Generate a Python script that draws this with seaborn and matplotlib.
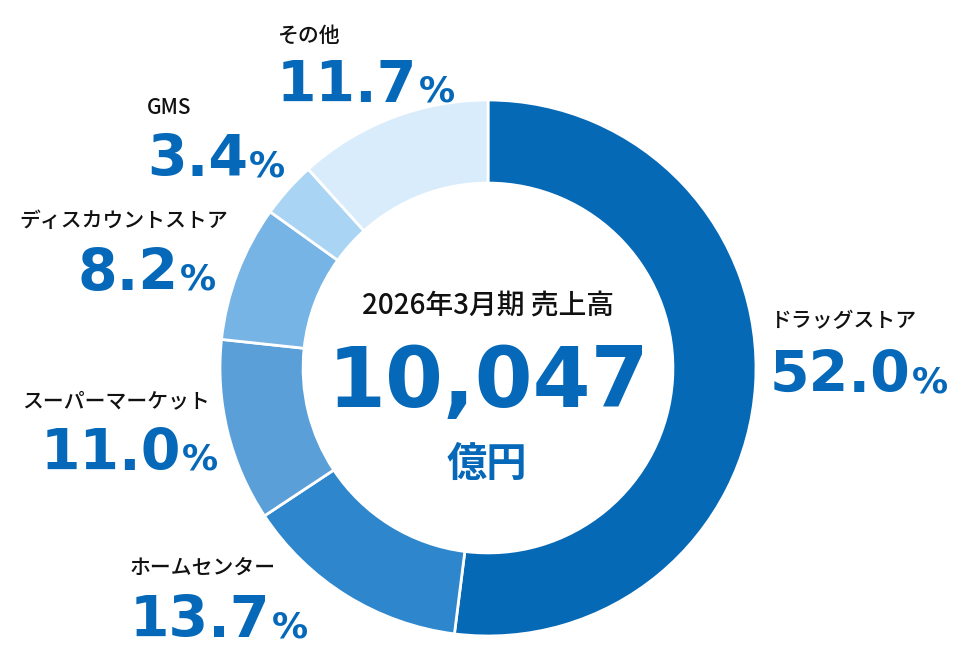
import matplotlib
matplotlib.use("Agg")
import matplotlib.pyplot as plt
import seaborn as sns

# sales share by business format (clockwise from 12 o'clock)
categories = ["ドラッグストア", "ホームセンター", "スーパーマーケット",
              "ディスカウントストア", "GMS", "その他"]
shares = [52.0, 13.7, 11.0, 8.2, 3.4, 11.7]
pct_labels = ["52.0", "13.7", "11.0", "8.2", "3.4", "11.7"]
colors = ["#0669b6", "#2e87cd", "#5a9fd8", "#76b4e6", "#a9d4f4", "#d9ecfb"]

title_text = "2026年3月期 売上高"
total_text = "10,047"
unit_text = "億円"

BLUE = "#0568b8"
W, H = 980, 670

sns.set_theme(style="white")
plt.rcParams["font.family"] = ["Noto Sans CJK JP", "DejaVu Sans"]

fig = plt.figure(figsize=(W / 100, H / 100), dpi=100)
fig.patch.set_facecolor("white")

# donut centre (488, 368) px, radius 268 px
cx, cy, r = 488, 368, 268
ax = fig.add_axes([(cx - r) / W, (H - cy - r) / H, 2 * r / W, 2 * r / H])
ax.pie(shares, colors=colors, startangle=90, counterclock=False, radius=1,
       wedgeprops=dict(width=0.31, edgecolor="white", linewidth=2))
ax.set_xlim(-1, 1)
ax.set_ylim(-1, 1)
ax.set_aspect("equal")
ax.axis("off")


def fx(x):
    return x / W


def fy(y):
    return 1 - y / H


renderer = fig.canvas.get_renderer()


def pct(x, y, num, align="left"):
    big = dict(fontsize=41, fontweight="bold", color=BLUE, family="DejaVu Sans", va="baseline")
    small = dict(fontsize=26, fontweight="bold", color=BLUE, family="DejaVu Sans", va="baseline")
    gap = 1
    if align == "left":
        t = fig.text(fx(x), fy(y), num, ha="left", **big)
        x1 = t.get_window_extent(renderer).x1
        fig.text((x1 + gap) / W, fy(y), "%", ha="left", **small)
    else:
        p = fig.text(fx(x), fy(y), "%", ha="right", **small)
        x0 = p.get_window_extent(renderer).x0
        fig.text((x0 - gap) / W, fy(y), num, ha="right", **big)


def name(x, y, s, align="left"):
    fig.text(fx(x), fy(y), s, ha=align, va="baseline", fontsize=15,
             fontweight="medium", color="#111111")


# (name x, name baseline, pct x, pct baseline, align)
layout = {
    "ドラッグストア": (770, 327, 770, 392, "left"),
    "ホームセンター": (130, 574, 130, 637, "left"),
    "スーパーマーケット": (210, 407, 218, 470, "right"),
    "ディスカウントストア": (228, 227, 216, 290, "right"),
    "GMS": (147, 114, 147, 176, "left"),
    "その他": (278, 42, 277, 102, "left"),
}

for cat, lab in zip(categories, pct_labels):
    nx, ny, px, py, al = layout[cat]
    name(nx, ny, cat, al)
    pct(px, py, lab, al)

# centre text
fig.text(fx(488), fy(314), title_text, ha="center", va="baseline",
         fontsize=20, fontweight="medium", color="#111111")
fig.text(fx(488), fy(407), total_text, ha="center", va="baseline",
         fontsize=60, fontweight="bold", color=BLUE, family="DejaVu Sans")
fig.text(fx(487), fy(476), unit_text, ha="center", va="baseline",
         fontsize=29, fontweight="bold", color=BLUE)

fig.savefig("out.png", dpi=100, facecolor="white")
